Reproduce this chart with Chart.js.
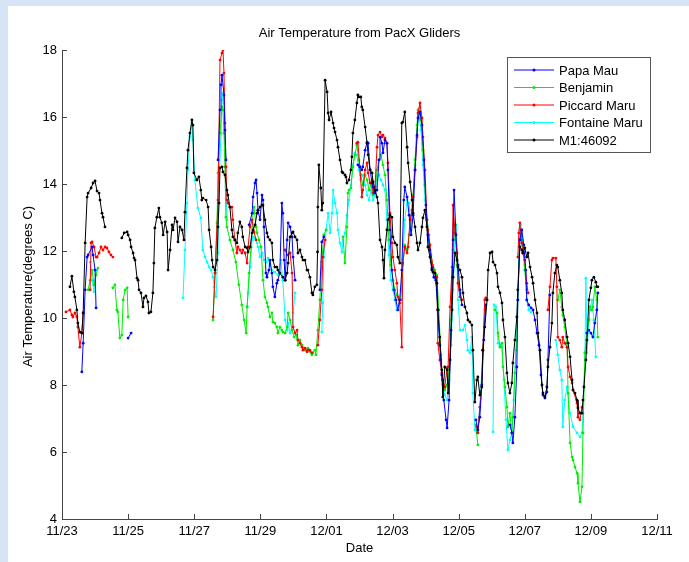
<!DOCTYPE html>
<html><head><meta charset="utf-8">
<script src="https://cdn.jsdelivr.net/npm/chart.js@4.4.1/dist/chart.umd.min.js"></script>
<style>html,body{margin:0;padding:0;background:#d6e4f6;overflow:hidden}canvas{display:block}</style>
</head><body>
<canvas id="c" width="689" height="562"></canvas>
<script>
// ---- data (x = days since 11/23, y = air temperature in deg C; null = gap) ----
const titleText = 'Air Temperature from PacX Gliders';
const xLabel = 'Date';
const yLabel = 'Air Temperature(degrees C)';
const seriesNames = ['Papa Mau', 'Benjamin', 'Piccard Maru', 'Fontaine Maru', 'M1:46092'];
const xTickDays = [0, 2, 4, 6, 8, 10, 12, 14, 16, 18];
const yTickValues = [4, 6, 8, 10, 12, 14, 16, 18];

const papaMau = [
[0.60,8.39],[0.64,9.25],[0.70,10.84],[0.76,11.82],[0.79,11.88],[0.91,12.12],[0.94,11.88],[1.00,11.43],[1.03,10.30],[1.5,null],
[2.00,9.40],[2.09,9.55],[3,null],
[4.72,14.72],[4.78,16.21],[4.81,16.96],[4.84,17.25],[4.90,16.66],[4.93,15.61],[4.96,14.72],[5.3,null],
[5.66,12.78],[5.75,13.13],[5.78,13.61],[5.84,14.03],[5.87,14.12],[5.90,13.73],[5.93,13.22],[5.99,12.93],[6.05,13.67],[6.08,13.52],[6.11,12.72],[6.17,11.34],[6.20,11.22],[6.26,11.43],[6.29,11.73],[6.35,11.34],[6.38,10.93],[6.44,10.63],[6.50,11.04],[6.53,11.13],[6.59,11.34],[6.65,13.43],[6.68,13.13],[6.72,11.73],[6.75,11.13],[6.81,12.33],[6.84,12.84],[6.90,12.72],[6.96,12.42],[6.99,11.82],[7.05,11.13],[7.4,null],
[7.80,10.84],[7.86,12.27],[7.92,12.42],[8.4,null],
[8.95,14.57],[9.01,14.51],[9.07,14.42],[9.10,14.51],[9.17,15.01],[9.23,15.25],[9.26,15.22],[9.32,14.42],[9.38,14.03],[9.41,13.91],[9.47,13.73],[9.53,13.82],[9.59,14.72],[9.62,15.40],[9.68,15.22],[9.71,14.93],[9.77,15.31],[9.83,15.22],[9.86,14.42],[9.92,12.63],[9.98,11.43],[10.04,10.84],[10.10,10.54],[10.16,10.24],[10.22,10.54],[10.28,11.43],[10.34,13.52],[10.37,13.91],[10.44,13.61],[10.50,13.07],[10.56,12.48],[10.62,13.07],[10.68,14.42],[10.74,15.46],[10.77,15.97],[10.83,16.15],[10.89,15.76],[10.95,14.72],[11.01,13.37],[11.07,12.48],[11.13,12.03],[11.19,11.49],[11.25,11.22],[11.31,11.13],[11.37,10.24],[11.43,9.19],[11.49,8.30],[11.55,7.55],[11.62,6.96],[11.65,6.72],[11.71,7.55],[11.77,9.64],[11.83,12.33],[11.86,13.82],[11.92,12.48],[11.98,11.58],[12.04,10.84],[12.10,10.39],[12.3,null],
[12.52,6.96],[12.58,6.66],[12.64,7.04],[12.70,8.00],[12.76,9.34],[12.82,10.39],[13.2,null],
[13.55,6.81],[13.61,6.57],[13.64,6.27],[13.70,7.04],[13.76,8.54],[13.79,10.54],[13.85,12.33],[13.91,12.63],[13.97,12.18],[14.03,11.43],[14.06,10.54],[14.12,10.39],[14.19,10.30],[14.25,10.24],[14.31,9.94],[14.37,9.55],[14.43,9.19],[14.49,8.30],[14.55,7.70],[14.61,7.61],[14.67,7.79],[14.70,8.75],[14.76,10.69],[15.3,null],
[15.88,9.55],[15.94,9.64],[16.00,9.55],[16.06,9.43],[16.12,9.85],[16.18,10.24],[16.21,10.75]
];

const benjamin = [
[0.79,10.84],[0.85,11.13],[0.91,11.43],[0.97,10.99],[1.03,11.28],[1.09,11.49],[1.3,null],
[1.54,10.90],[1.60,10.99],[1.66,10.24],[1.69,10.18],[1.75,9.40],[1.81,9.49],[1.85,10.54],[1.91,10.84],[1.97,10.90],[2.00,10.03],[3,null],
[4.57,9.94],[4.63,11.34],[4.69,12.84],[4.72,14.33],[4.78,15.52],[4.84,16.30],[4.87,16.21],[4.90,15.52],[4.93,14.51],[4.96,13.01],[4.99,12.72],[5.08,12.33],[5.17,12.03],[5.26,11.67],[5.35,10.99],[5.44,10.39],[5.51,9.94],[5.57,9.55],[5.60,10.33],[5.66,11.34],[5.72,12.12],[5.78,13.13],[5.81,13.31],[5.87,12.72],[5.90,12.54],[5.96,12.33],[6.02,12.12],[6.08,11.13],[6.14,10.63],[6.20,10.45],[6.23,10.33],[6.29,10.03],[6.35,10.15],[6.38,9.88],[6.44,9.85],[6.50,9.73],[6.53,9.55],[6.59,9.73],[6.65,9.64],[6.68,9.58],[6.75,9.55],[6.81,9.73],[6.84,10.15],[6.90,9.94],[6.96,9.64],[7.02,9.43],[7.08,9.49],[7.14,9.19],[7.20,9.34],[7.26,9.19],[7.35,9.04],[7.44,9.10],[7.50,8.99],[7.56,8.90],[7.59,8.96],[7.65,9.04],[7.68,8.90],[7.74,9.64],[7.80,10.54],[7.86,11.67],[7.92,12.48],[7.99,12.63],[8.2,null],
[8.50,12.42],[8.56,11.64],[8.62,12.72],[8.65,13.73],[8.68,13.82],[8.74,13.88],[8.80,14.51],[8.86,14.87],[8.92,15.16],[8.98,14.72],[9.04,14.27],[9.10,13.97],[9.17,14.27],[9.23,14.12],[9.29,13.82],[9.35,13.97],[9.41,13.67],[9.47,13.82],[9.53,14.42],[9.59,14.72],[9.65,14.87],[9.71,14.57],[9.77,14.27],[9.83,13.52],[9.89,12.33],[9.95,11.58],[10.01,11.13],[10.07,10.84],[10.13,10.69],[10.19,10.54],[10.25,10.54],[10.31,11.58],[10.37,12.18],[10.44,12.03],[10.50,12.48],[10.56,12.93],[10.62,13.67],[10.68,14.72],[10.74,15.76],[10.77,16.21],[10.83,16.27],[10.86,15.91],[10.92,15.01],[10.98,13.97],[11.04,12.93],[11.10,12.48],[11.16,11.88],[11.22,11.58],[11.28,11.43],[11.34,11.28],[11.40,10.24],[11.46,8.90],[11.52,8.15],[11.58,7.85],[11.65,8.00],[11.71,8.45],[11.77,9.94],[11.83,12.03],[11.89,12.78],[11.95,11.58],[12.01,10.99],[12.07,10.54],[12.3,null],
[12.52,6.81],[12.58,6.21],[12.9,null],
[13.10,10.24],[13.16,10.15],[13.19,9.55],[13.25,9.13],[13.31,9.25],[13.34,8.54],[13.40,7.94],[13.46,7.34],[13.49,6.75],[13.55,7.16],[13.61,6.57],[13.64,7.04],[13.70,8.36],[13.76,9.34],[13.79,10.54],[13.85,12.33],[13.88,12.63],[13.94,12.18],[14.00,11.43],[14.06,10.84],[14.5,null],
[15.00,10.54],[15.06,10.84],[15.12,10.33],[15.15,10.09],[15.21,9.73],[15.28,9.13],[15.31,7.76],[15.37,6.27],[15.43,5.85],[15.46,5.76],[15.52,5.55],[15.58,5.37],[15.61,5.07],[15.67,4.51],[15.73,4.96],[15.76,6.57],[15.82,8.96],[15.88,9.55],[15.94,9.94],[15.97,10.33],[16.03,10.24],[16.06,10.33],[16.12,10.93],[16.18,10.54],[16.21,9.43]
];

const piccardMaru = [
[0.12,10.18],[0.24,10.24],[0.30,10.09],[0.33,10.03],[0.39,10.15],[0.45,10.03],[0.48,9.73],[0.54,9.13],[0.60,9.55],[0.64,10.15],[0.75,null],
[0.85,10.84],[0.88,12.24],[0.91,12.27],[0.97,12.12],[1.03,11.82],[1.06,11.82],[1.12,11.94],[1.18,12.12],[1.24,12.03],[1.30,12.12],[1.36,12.09],[1.42,11.97],[1.48,11.88],[1.54,11.82],[3,null],
[4.57,10.03],[4.63,11.34],[4.72,13.52],[4.78,17.70],[4.84,17.91],[4.87,18.00],[4.90,17.31],[4.93,15.82],[4.96,14.51],[4.99,13.52],[5.02,13.43],[5.08,13.31],[5.14,13.31],[5.17,12.93],[5.23,12.33],[5.29,11.94],[5.32,12.12],[5.38,12.03],[5.44,11.94],[5.47,12.03],[5.54,11.94],[5.60,11.64],[5.63,12.12],[5.69,12.72],[5.75,12.93],[5.81,12.57],[5.87,12.33],[6.3,null],
[6.75,12.03],[6.81,11.88],[6.90,11.94],[6.96,11.34],[6.99,9.73],[7.05,9.55],[7.11,9.64],[7.14,9.34],[7.20,9.25],[7.26,9.13],[7.29,9.04],[7.35,9.10],[7.41,8.99],[7.44,9.04],[7.50,9.04],[7.56,8.96],[7.65,null],
[7.74,9.19],[7.80,9.94],[7.86,10.84],[7.89,11.82],[7.96,12.33],[8.4,null],
[8.92,15.22],[8.95,15.25],[9.01,14.51],[9.07,13.61],[9.10,13.82],[9.17,14.42],[9.23,14.63],[9.26,14.33],[9.32,14.03],[9.38,14.12],[9.41,13.73],[9.47,13.91],[9.53,15.10],[9.56,15.46],[9.62,15.55],[9.68,15.40],[9.71,15.46],[9.77,15.37],[9.83,15.22],[9.86,14.63],[9.92,13.13],[9.98,12.24],[10.01,11.82],[10.07,11.43],[10.13,11.04],[10.16,10.63],[10.22,10.45],[10.28,9.13],[10.31,11.64],[10.37,12.12],[10.44,11.94],[10.47,12.12],[10.53,12.93],[10.59,13.22],[10.62,13.61],[10.68,14.42],[10.74,15.40],[10.77,16.12],[10.83,16.42],[10.89,15.97],[10.92,15.40],[10.98,14.42],[11.04,12.93],[11.07,12.63],[11.13,12.18],[11.22,11.52],[11.28,11.34],[11.34,11.22],[11.37,9.25],[11.43,8.75],[11.49,8.36],[11.52,8.15],[11.58,7.94],[11.65,8.51],[11.68,8.54],[11.74,10.33],[11.80,11.52],[11.83,13.37],[11.89,12.54],[11.95,11.94],[11.98,11.04],[12.04,10.63],[12.10,10.54],[12.3,null],
[12.55,6.75],[12.58,6.57],[12.64,7.34],[12.70,7.94],[12.73,9.04],[12.79,10.54],[12.82,10.60],[13.3,null],
[13.79,11.82],[13.82,12.54],[13.85,12.84],[13.91,12.24],[13.94,11.94],[14.00,11.73],[14.06,11.04],[14.10,10.75],[14.4,null],
[14.70,10.24],[14.76,10.93],[14.82,11.73],[14.85,11.79],[14.94,11.79],[14.97,10.93],[15.00,9.43],[15.06,9.34],[15.12,9.13],[15.15,9.43],[15.21,9.25],[15.28,9.13],[15.31,8.54],[15.37,8.24],[15.43,8.06],[15.46,7.85],[15.58,7.46],[15.61,7.04],[15.67,6.96],[15.73,7.34]
];

const fontaineMaru = [
[0.85,11.67],[0.91,11.13],[0.97,10.78],[1.03,11.43],[1.2,null],
[3.66,10.60],[3.72,12.03],[3.78,13.43],[3.81,14.42],[3.87,15.40],[3.93,15.82],[3.96,15.31],[4.02,14.12],[4.11,13.28],[4.20,12.99],[4.26,12.03],[4.33,11.82],[4.39,11.67],[4.45,11.52],[4.51,11.43],[4.57,11.22],[4.60,10.93],[4.66,10.63],[4.72,11.94],[4.75,14.03],[4.81,15.52],[4.84,16.51],[4.87,16.72],[4.90,16.42],[4.93,15.01],[4.96,13.91],[4.99,12.93],[5.3,null],
[5.60,10.33],[5.63,10.75],[5.69,11.52],[5.75,12.33],[5.78,12.42],[5.84,12.39],[5.90,12.24],[5.93,12.12],[5.99,11.82],[6.05,11.94],[6.11,11.73],[6.17,11.67],[6.23,11.79],[6.29,11.58],[6.35,11.43],[6.44,11.37],[6.53,11.28],[6.62,11.73],[6.68,11.13],[6.75,9.94],[6.81,9.64],[6.84,9.85],[6.90,9.55],[6.96,9.73],[6.99,10.15],[7.05,10.75],[7.5,null],
[7.86,9.58],[7.89,10.45],[7.92,11.82],[7.99,12.63],[8.05,13.13],[8.11,12.54],[8.17,13.13],[8.20,13.82],[8.26,13.43],[8.32,13.13],[8.35,12.63],[8.41,12.24],[8.47,11.97],[8.50,12.33],[8.56,12.54],[8.62,13.07],[8.68,13.52],[8.74,13.97],[8.80,14.57],[8.86,14.93],[8.92,14.87],[8.98,14.42],[9.04,14.12],[9.10,14.27],[9.17,13.97],[9.23,13.67],[9.29,13.52],[9.35,13.82],[9.41,13.52],[9.47,13.67],[9.53,14.12],[9.59,14.27],[9.65,14.12],[9.71,13.97],[9.77,13.82],[9.83,12.93],[9.89,11.88],[9.95,11.13],[10.01,10.84],[10.07,10.54],[10.13,10.24],[10.19,10.39],[10.25,10.84],[10.31,11.73],[10.37,12.93],[10.44,13.52],[10.50,13.43],[10.56,12.63],[10.62,13.52],[10.68,14.57],[10.74,15.61],[10.80,16.06],[10.86,15.61],[10.92,14.57],[10.98,13.52],[11.04,12.78],[11.10,12.18],[11.16,11.67],[11.22,11.43],[11.28,11.19],[11.34,10.84],[11.40,9.64],[11.46,8.75],[11.52,8.00],[11.58,7.70],[11.65,7.55],[11.71,8.15],[11.77,9.19],[11.83,10.84],[11.89,12.33],[11.92,12.78],[11.98,10.54],[12.04,9.64],[12.13,9.64],[12.19,9.79],[12.25,9.34],[12.28,9.04],[12.34,8.96],[12.40,9.43],[12.43,7.76],[12.49,6.66],[12.55,6.57],[12.61,6.96],[12.67,7.85],[12.73,9.04],[12.79,10.24],[12.95,null],
[13.04,6.60],[13.07,10.39],[13.13,10.33],[13.19,9.25],[13.25,9.19],[13.31,9.13],[13.37,8.15],[13.43,6.96],[13.49,6.06],[13.55,6.36],[13.61,6.57],[13.67,7.55],[13.73,9.04],[13.79,10.84],[13.85,12.63],[13.88,12.78],[13.94,12.33],[14.00,11.58],[14.06,10.54],[14.12,10.24],[14.19,10.18],[14.6,null],
[14.94,9.34],[15.00,8.90],[15.06,8.45],[15.12,8.15],[15.15,6.75],[15.21,7.55],[15.28,7.94],[15.37,7.16],[15.46,6.75],[15.58,6.57],[15.67,6.45],[15.73,6.57],[15.76,7.16],[15.82,8.96],[15.85,11.19],[15.88,8.96],[15.94,9.94],[15.97,10.24],[16.03,10.54],[16.09,9.94],[16.15,8.84]
];

const m1_46092 = [
[0.24,10.93],[0.30,11.25],[0.36,10.78],[0.39,10.63],[0.45,10.24],[0.48,9.85],[0.54,9.58],[0.60,9.55],[0.64,10.15],[0.70,12.24],[0.76,13.61],[0.79,13.73],[0.88,13.88],[0.94,14.03],[1.00,14.09],[1.06,13.79],[1.12,13.73],[1.15,13.52],[1.21,13.13],[1.24,13.01],[1.30,12.72],[1.55,null],
[1.81,12.39],[1.88,12.54],[1.97,12.57],[2.00,12.48],[2.06,12.33],[2.09,12.12],[2.15,11.94],[2.18,11.79],[2.21,11.73],[2.27,11.19],[2.30,11.13],[2.33,10.84],[2.39,10.75],[2.45,10.33],[2.48,10.60],[2.54,10.66],[2.60,10.48],[2.63,10.15],[2.69,10.18],[2.75,10.75],[2.78,11.64],[2.81,12.69],[2.87,13.01],[2.93,13.28],[2.96,13.01],[3.02,12.84],[3.06,12.48],[3.12,12.87],[3.18,12.57],[3.21,11.43],[3.27,12.03],[3.33,12.78],[3.36,12.63],[3.42,12.99],[3.48,12.87],[3.51,12.27],[3.57,12.72],[3.63,12.63],[3.69,12.33],[3.72,13.16],[3.78,14.48],[3.81,15.01],[3.87,15.52],[3.93,15.91],[3.96,15.76],[3.99,14.33],[4.08,14.12],[4.14,14.21],[4.20,13.82],[4.23,13.52],[4.26,13.58],[4.36,13.52],[4.42,13.31],[4.45,12.63],[4.51,12.12],[4.54,11.73],[4.57,11.52],[4.63,11.43],[4.69,11.73],[4.72,12.72],[4.75,13.43],[4.78,14.48],[4.84,14.51],[4.87,14.36],[4.93,14.27],[4.99,13.82],[5.02,13.67],[5.08,13.31],[5.14,12.63],[5.17,12.42],[5.23,12.33],[5.29,12.24],[5.32,12.54],[5.38,12.87],[5.44,12.72],[5.47,12.42],[5.54,12.12],[5.60,12.09],[5.63,11.97],[5.69,12.12],[5.75,12.54],[5.78,12.63],[5.84,12.78],[5.90,13.13],[5.93,13.22],[5.99,13.31],[6.05,13.37],[6.08,13.37],[6.14,12.93],[6.20,12.54],[6.23,12.42],[6.29,12.33],[6.35,12.24],[6.38,11.73],[6.44,11.52],[6.50,11.52],[6.53,11.43],[6.59,11.34],[6.68,11.22],[6.75,11.13],[6.81,11.34],[6.84,11.64],[6.90,12.42],[6.96,12.54],[6.99,12.57],[7.05,12.42],[7.11,12.33],[7.14,11.94],[7.20,12.03],[7.26,11.82],[7.29,11.73],[7.35,11.73],[7.41,11.43],[7.44,11.43],[7.50,11.22],[7.56,10.75],[7.59,10.69],[7.65,10.93],[7.71,10.99],[7.73,11.97],[7.74,13.31],[7.77,14.57],[7.83,13.88],[7.86,13.22],[7.89,13.43],[7.96,17.10],[8.02,16.75],[8.05,16.12],[8.08,15.91],[8.14,16.15],[8.20,15.82],[8.23,15.67],[8.26,15.55],[8.32,15.31],[8.35,15.10],[8.41,14.72],[8.47,14.36],[8.50,14.33],[8.56,14.27],[8.59,14.21],[8.62,14.03],[8.68,14.12],[8.74,14.42],[8.77,14.81],[8.80,15.52],[8.86,15.91],[8.92,16.42],[8.95,16.66],[8.98,16.60],[9.04,16.60],[9.07,16.30],[9.10,16.21],[9.17,15.70],[9.23,15.22],[9.26,14.87],[9.32,14.42],[9.38,14.33],[9.41,14.06],[9.47,13.82],[9.53,13.61],[9.56,13.43],[9.62,12.33],[9.68,12.12],[9.71,11.73],[9.74,11.19],[9.77,12.03],[9.83,12.63],[9.86,12.93],[9.92,13.07],[9.98,13.01],[10.01,12.42],[10.07,12.24],[10.13,12.18],[10.16,11.82],[10.22,11.64],[10.28,15.82],[10.31,15.85],[10.37,16.15],[10.44,15.10],[10.47,14.63],[10.53,14.06],[10.59,13.52],[10.62,13.13],[10.68,12.72],[10.74,12.24],[10.77,12.03],[10.83,12.24],[10.89,12.72],[10.92,12.99],[10.98,13.22],[11.04,12.72],[11.07,12.12],[11.13,11.82],[11.19,11.43],[11.22,11.37],[11.28,11.34],[11.34,11.04],[11.37,10.24],[11.43,9.43],[11.49,8.45],[11.52,7.64],[11.58,8.54],[11.65,8.45],[11.68,7.76],[11.74,8.75],[11.80,10.24],[11.83,11.22],[11.89,11.94],[11.95,11.73],[11.98,11.52],[12.04,11.43],[12.10,11.22],[12.13,10.75],[12.19,10.33],[12.25,10.15],[12.28,9.94],[12.34,9.88],[12.40,9.79],[12.43,9.04],[12.49,7.49],[12.55,8.15],[12.58,8.24],[12.64,7.70],[12.70,7.94],[12.73,9.04],[12.79,9.73],[12.86,10.54],[12.89,11.43],[12.95,11.94],[13.01,11.97],[13.04,11.67],[13.10,11.58],[13.16,11.34],[13.19,10.93],[13.25,10.75],[13.31,10.45],[13.34,9.94],[13.40,9.43],[13.46,8.36],[13.49,8.06],[13.55,7.76],[13.61,8.06],[13.64,8.66],[13.70,9.34],[13.76,10.03],[13.79,10.84],[13.85,12.12],[13.91,12.03],[13.94,11.94],[14.00,12.09],[14.06,11.82],[14.10,11.94],[14.16,11.52],[14.22,11.22],[14.25,11.04],[14.31,10.54],[14.37,10.15],[14.40,9.55],[14.46,9.04],[14.52,8.00],[14.55,7.76],[14.61,7.64],[14.67,7.94],[14.70,8.54],[14.76,9.13],[14.82,9.85],[14.85,10.75],[14.91,11.34],[14.97,11.58],[15.00,11.52],[15.06,11.13],[15.12,10.75],[15.15,10.24],[15.21,9.94],[15.28,9.43],[15.31,9.25],[15.37,8.84],[15.43,8.15],[15.46,7.85],[15.52,7.76],[15.58,7.55],[15.61,7.31],[15.67,7.16],[15.73,7.16],[15.76,7.55],[15.79,7.94],[15.85,8.75],[15.88,9.34],[15.94,10.54],[16.00,10.90],[16.03,11.13],[16.09,11.22],[16.15,11.07],[16.18,10.93],[16.21,10.93]
];

// ---- styling ----
const seriesData = [papaMau, benjamin, piccardMaru, fontaineMaru, m1_46092];
const seriesColors = ['#0000ff', '#00ee00', '#ff0000', '#00ffff', '#000000'];
const drawOrder = [1, 3, 2, 4, 0];
const FONT = '"Liberation Sans", Arial, sans-serif';

function dayLabel(d) {
  const dt = new Date(2010, 10, 23 + Math.round(d));
  const mm = String(dt.getMonth() + 1).padStart(2, '0');
  const dd = String(dt.getDate()).padStart(2, '0');
  return mm + '/' + dd;
}

const decorPlugin = {
  id: 'decor',
  beforeDraw(chart) {
    const c = chart.ctx;
    c.save();
    c.fillStyle = '#d6e4f6';
    c.fillRect(0, 0, chart.width, chart.height);
    c.fillStyle = '#ffffff';
    c.fillRect(8, 6, chart.width - 8, chart.height - 6);
    c.restore();
  },
  afterDraw(chart) {
    const c = chart.ctx, a = chart.chartArea;
    const xs = chart.scales.x, ys = chart.scales.y;
    c.save();
    // inward ticks
    c.strokeStyle = '#444';
    c.lineWidth = 1;
    c.beginPath();
    yTickValues.forEach(v => {
      const py = Math.round(ys.getPixelForValue(v)) + 0.5;
      c.moveTo(a.left, py); c.lineTo(a.left + 5, py);
    });
    xTickDays.forEach(v => {
      const px = Math.round(xs.getPixelForValue(v)) + 0.5;
      c.moveTo(px, a.bottom); c.lineTo(px, a.bottom - 5);
    });
    c.stroke();
    // title and axis labels
    c.fillStyle = '#000';
    c.font = '13px ' + FONT;
    c.textAlign = 'center';
    c.textBaseline = 'middle';
    c.fillText(titleText, (a.left + a.right) / 2, 33);
    c.fillText(xLabel, (a.left + a.right) / 2, 548);
    c.save();
    c.translate(28, (a.top + a.bottom) / 2 + 2);
    c.rotate(-Math.PI / 2);
    c.fillText(yLabel, 0, 0);
    c.restore();
    // legend
    const bx = 507.5, by = 57.5, bw = 143, bh = 95;
    c.fillStyle = '#fff';
    c.fillRect(bx, by, bw, bh);
    c.strokeStyle = '#555';
    c.strokeRect(bx, by, bw, bh);
    c.textAlign = 'left';
    seriesNames.forEach((n, i) => {
      const yy = 70 + i * 17.5;
      c.strokeStyle = seriesColors[i];
      c.beginPath(); c.moveTo(514, yy); c.lineTo(554, yy); c.stroke();
      c.fillStyle = seriesColors[i];
      c.beginPath(); c.arc(534, yy, 1.5, 0, Math.PI * 2); c.fill();
      c.fillStyle = '#000';
      c.fillText(n, 559, yy + 1);
    });
    c.restore();
  }
};

new Chart(document.getElementById('c'), {
  type: 'line',
  data: {
    datasets: seriesData.map((s, i) => ({
      label: seriesNames[i],
      data: s.map(p => ({ x: p[0], y: p[1] })),
      borderColor: seriesColors[i],
      backgroundColor: seriesColors[i],
      pointBackgroundColor: seriesColors[i],
      borderWidth: 1,
      pointRadius: 1.4,
      pointBorderWidth: 0,
      tension: 0,
      spanGaps: false,
      fill: false,
      order: drawOrder[i]
    }))
  },
  options: {
    responsive: false,
    animation: false,
    devicePixelRatio: 1,
    layout: { padding: { left: 0, right: 32, top: 50, bottom: 0 } },
    plugins: { legend: { display: false }, title: { display: false }, tooltip: { enabled: false } },
    scales: {
      x: {
        type: 'linear', min: 0, max: 18,
        afterBuildTicks: s => { s.ticks = xTickDays.map(v => ({ value: v })); },
        afterFit: s => { s.height = 43; },
        ticks: { callback: v => dayLabel(v), font: { family: FONT, size: 13 }, color: '#000', padding: 5, maxRotation: 0, autoSkip: false },
        grid: { display: false, drawTicks: false },
        border: { display: true, color: '#444', width: 1 }
      },
      y: {
        type: 'linear', min: 4, max: 18,
        afterBuildTicks: s => { s.ticks = yTickValues.map(v => ({ value: v })); },
        afterFit: s => { s.width = 62; },
        ticks: { font: { family: FONT, size: 13 }, color: '#000', padding: 5 },
        grid: { display: false, drawTicks: false },
        border: { display: true, color: '#444', width: 1 }
      }
    }
  },
  plugins: [decorPlugin]
});
</script>
</body></html>
